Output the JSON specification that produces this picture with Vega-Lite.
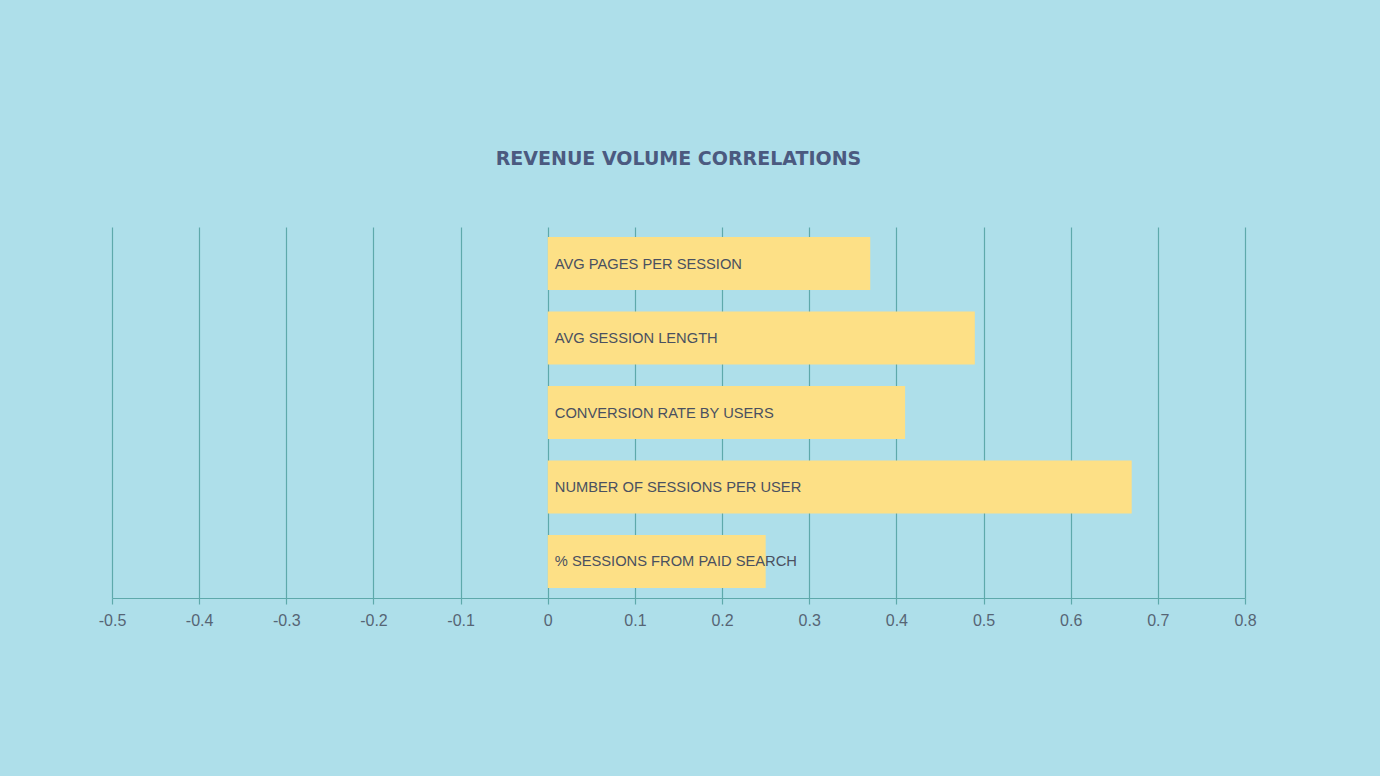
{
  "$schema": "https://vega.github.io/schema/vega-lite/v6.json",
  "autosize": {"type": "none"},
  "padding": {"left": 112, "top": 227, "right": 135, "bottom": 178},
  "width": 1133,
  "height": 371,
  "background": "#aedfea",
  "title": {
    "text": "REVENUE VOLUME CORRELATIONS",
    "font": "DejaVu Sans",
    "fontSize": 19,
    "fontWeight": "bold",
    "color": "#4b5a80",
    "anchor": "middle",
    "offset": 58
  },
  "data": {
    "values": [
      {"metric": "AVG PAGES PER SESSION", "correlation": 0.37},
      {"metric": "AVG SESSION LENGTH", "correlation": 0.49},
      {"metric": "CONVERSION RATE BY USERS", "correlation": 0.41},
      {"metric": "NUMBER OF SESSIONS PER USER", "correlation": 0.67},
      {"metric": "% SESSIONS FROM PAID SEARCH", "correlation": 0.25}
    ]
  },
  "encoding": {
    "y": {
      "field": "metric",
      "type": "nominal",
      "sort": null,
      "axis": null,
      "scale": {"paddingInner": 0.29, "paddingOuter": 0.135}
    }
  },
  "layer": [
    {
      "mark": {"type": "bar", "color": "#fde086"},
      "encoding": {
        "x": {
          "field": "correlation",
          "type": "quantitative",
          "scale": {"domain": [-0.5, 0.8], "nice": false, "zero": false},
          "axis": {
            "title": null,
            "values": [-0.5, -0.4, -0.3, -0.2, -0.1, 0, 0.1, 0.2, 0.3, 0.4, 0.5, 0.6, 0.7, 0.8],
            "format": ".1~f",
            "labelExpr": "replace(datum.label, '\u2212', '-')",
            "labelFlush": false,
            "grid": true,
            "gridColor": "#5ea9ab",
            "gridWidth": 1.2,
            "gridOpacity": 1,
            "domainColor": "#5ea9ab",
            "domainWidth": 1.2,
            "tickColor": "#5ea9ab",
            "tickWidth": 1.2,
            "tickSize": 6,
            "labelPadding": 8,
            "labelFont": "Liberation Sans",
            "labelFontSize": 16,
            "labelColor": "#566575"
          }
        }
      }
    },
    {
      "mark": {
        "type": "text",
        "align": "left",
        "baseline": "middle",
        "dx": 7,
        "dy": 1,
        "font": "Liberation Sans",
        "fontSize": 14.7,
        "color": "#4a5060"
      },
      "encoding": {
        "x": {"datum": 0},
        "text": {"field": "metric"}
      }
    }
  ],
  "config": {
    "view": {"stroke": null}
  }
}
